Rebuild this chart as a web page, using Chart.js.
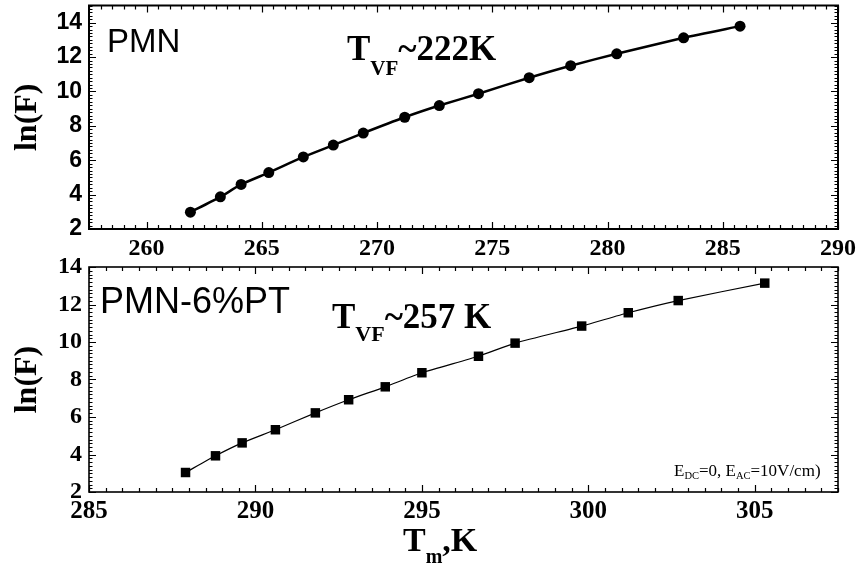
<!DOCTYPE html>
<html>
<head>
<meta charset="utf-8">
<script src="https://cdn.jsdelivr.net/npm/chart.js@4.4.1/dist/chart.umd.min.js"></script>
<style>
  html, body { margin: 0; padding: 0; background: #fff; }
  #wrap { position: relative; width: 857px; height: 567px; }
  canvas { position: absolute; left: 0; top: 0; }
</style>
</head>
<body>
<div id="wrap">
  <canvas id="top" width="857" height="567"></canvas>
  <canvas id="bottom" width="857" height="567"></canvas>
</div>
<script>
// ---- Data: PMN (upper panel) ----
const pmnTm  = [261.9, 263.2, 264.1, 265.3, 266.8, 268.1, 269.4, 271.2, 272.7, 274.4, 276.6, 278.4, 280.4, 283.3, 285.75];
const pmnLnF = [2.98, 3.87, 4.59, 5.28, 6.19, 6.88, 7.58, 8.50, 9.18, 9.87, 10.80, 11.50, 12.19, 13.12, 13.80];
// ---- Data: PMN-6%PT (lower panel) ----
const ptTm  = [287.9, 288.8, 289.6, 290.6, 291.8, 292.8, 293.9, 295.0, 296.7, 297.8, 299.8, 301.2, 302.7, 305.3];
const ptLnF = [3.04, 3.93, 4.62, 5.32, 6.22, 6.92, 7.61, 8.36, 9.24, 9.94, 10.85, 11.56, 12.21, 13.14];
// ---- Tick labels ----
const pmnXTicks = [260, 265, 270, 275, 280, 285, 290];
const ptXTicks  = [285, 290, 295, 300, 305];
const lnFTicks  = [2, 4, 6, 8, 10, 12, 14];

const SERIF = 'Liberation Serif, Times New Roman, serif';
const SANS  = 'Liberation Sans, Arial, sans-serif';

function drawRuns(ctx, x, base, runs) {
  ctx.save();
  ctx.fillStyle = '#000';
  ctx.textBaseline = 'alphabetic';
  ctx.textAlign = 'left';
  let cx = x;
  for (const r of runs) {
    ctx.font = r.font;
    ctx.fillText(r.t, cx, base + (r.dy || 0));
    cx += ctx.measureText(r.t).width;
  }
  ctx.restore();
}

function framePlugin(opts) {
  return {
    id: 'frame',
    afterDraw(chart) {
      const ctx = chart.ctx, a = chart.chartArea;
      const xs = chart.scales.x, ys = chart.scales.y;
      ctx.save();
      ctx.strokeStyle = '#000';
      ctx.lineWidth = opts.tickWidth;
      ctx.beginPath();
      // x ticks, inward on bottom and top
      for (let v = Math.ceil(xs.min * 2) / 2; v <= xs.max + 1e-6; v += 0.5) {
        const p = Math.round(xs.getPixelForValue(v)) + 0.5;
        const major = Math.abs(v / 5 - Math.round(v / 5)) < 1e-6;
        const L = major ? opts.major : opts.minor;
        ctx.moveTo(p, a.bottom); ctx.lineTo(p, a.bottom - L);
        ctx.moveTo(p, a.top); ctx.lineTo(p, a.top + L);
      }
      // y ticks, inward on left and right
      for (let v = ys.min; v <= ys.max + 1e-6; v += 0.2) {
        const p = Math.round(ys.getPixelForValue(v)) + 0.5;
        const major = Math.abs(v / 2 - Math.round(v / 2)) < 1e-6;
        const L = major ? opts.major : opts.minorY;
        ctx.moveTo(a.left, p); ctx.lineTo(a.left + L, p);
        ctx.moveTo(a.right, p); ctx.lineTo(a.right - L, p);
      }
      ctx.stroke();
      ctx.lineWidth = opts.frameWidth;
      ctx.strokeRect(a.left, a.top, a.right - a.left, a.bottom - a.top);
      ctx.restore();
      opts.texts(ctx);
    }
  };
}

function makeOptions(cfg) {
  return {
    responsive: false,
    animation: false,
    devicePixelRatio: 1,
    layout: { padding: { left: 0, right: 19, top: cfg.padTop, bottom: 0 } },
    plugins: { legend: { display: false }, tooltip: { enabled: false } },
    scales: {
      x: {
        type: 'linear', min: cfg.xmin, max: cfg.xmax,
        afterBuildTicks: s => { s.ticks = cfg.xTicks.map(v => ({ value: v })); },
        afterFit: s => { s.height = cfg.xHeight; s.paddingLeft = 0; s.paddingRight = 0; },
        grid: { display: false, drawTicks: false },
        border: { display: false },
        ticks: { color: '#000', padding: 5, maxRotation: 0, autoSkip: false,
                 font: { family: SERIF, weight: 'bold', size: cfg.xFont } }
      },
      y: {
        type: 'linear', min: cfg.ymin, max: cfg.ymax,
        afterBuildTicks: s => { s.ticks = lnFTicks.map(v => ({ value: v })); },
        afterFit: s => { s.width = 89; s.paddingTop = 0; s.paddingBottom = 0; },
        grid: { display: false, drawTicks: false },
        border: { display: false },
        ticks: { color: '#000', padding: 7, autoSkip: false,
                 font: { family: cfg.yFamily, weight: 'bold', size: cfg.yFont } },
        title: { display: true, text: 'ln(F)', color: '#000',
                 font: { family: SERIF, weight: 'bold', size: 32, lineHeight: 1.2 },
                 padding: { top: 9, bottom: 0 } }
      }
    }
  };
}

new Chart(document.getElementById('top'), {
  type: 'line',
  data: {
    datasets: [{
      data: pmnTm.map((t, i) => ({ x: t, y: pmnLnF[i] })),
      borderColor: '#000', backgroundColor: '#000', borderWidth: 2.5,
      pointRadius: 5.5, pointBorderWidth: 0, pointStyle: 'circle', tension: 0.2,
      clip: false
    }]
  },
  options: makeOptions({ padTop: 5, xmin: 257.5, xmax: 290, xTicks: pmnXTicks, xHeight: 338,
                         xFont: 24, ymin: 2, ymax: 15, yFamily: SANS, yFont: 23 }),
  plugins: [framePlugin({
    tickWidth: 1.2, major: 7, minor: 4, minorY: 3.5, frameWidth: 2,
    texts(ctx) {
      drawRuns(ctx, 107, 52, [{ t: 'PMN', font: '33px ' + SANS }]);
      drawRuns(ctx, 347, 60, [
        { t: 'T', font: 'bold 35px ' + SERIF },
        { t: 'VF', font: 'bold 21px ' + SERIF, dy: 15 },
        { t: '~222K', font: 'bold 35px ' + SERIF }
      ]);
    }
  })]
});

new Chart(document.getElementById('bottom'), {
  type: 'line',
  data: {
    datasets: [{
      data: ptTm.map((t, i) => ({ x: t, y: ptLnF[i] })),
      borderColor: '#000', backgroundColor: '#000', borderWidth: 1.2,
      pointRadius: 6.7, pointBorderWidth: 0, pointStyle: 'rect', tension: 0.2,
      clip: false
    }]
  },
  options: makeOptions({ padTop: 267, xmin: 285, xmax: 307.5, xTicks: ptXTicks, xHeight: 75,
                         xFont: 25, ymin: 2, ymax: 14, yFamily: SERIF, yFont: 24 }),
  plugins: [framePlugin({
    tickWidth: 1.2, major: 7, minor: 4, minorY: 3.5, frameWidth: 1.6,
    texts(ctx) {
      drawRuns(ctx, 100, 313, [{ t: 'PMN-6%PT', font: '36px ' + SANS }]);
      drawRuns(ctx, 332, 328, [
        { t: 'T', font: 'bold 35px ' + SERIF },
        { t: 'VF', font: 'bold 22px ' + SERIF, dy: 13 },
        { t: '~257 K', font: 'bold 35px ' + SERIF }
      ]);
      drawRuns(ctx, 674, 476, [
        { t: 'E', font: '17px ' + SERIF },
        { t: 'DC', font: '10.5px ' + SERIF, dy: 3 },
        { t: '=0, E', font: '17px ' + SERIF },
        { t: 'AC', font: '10.5px ' + SERIF, dy: 3 },
        { t: '=10V/cm)', font: '17px ' + SERIF }
      ]);
      drawRuns(ctx, 403, 551, [
        { t: 'T', font: 'bold 34px ' + SERIF },
        { t: 'm', font: 'bold 20px ' + SERIF, dy: 12 },
        { t: ',K', font: 'bold 34px ' + SERIF }
      ]);
    }
  })]
});
</script>
</body>
</html>
